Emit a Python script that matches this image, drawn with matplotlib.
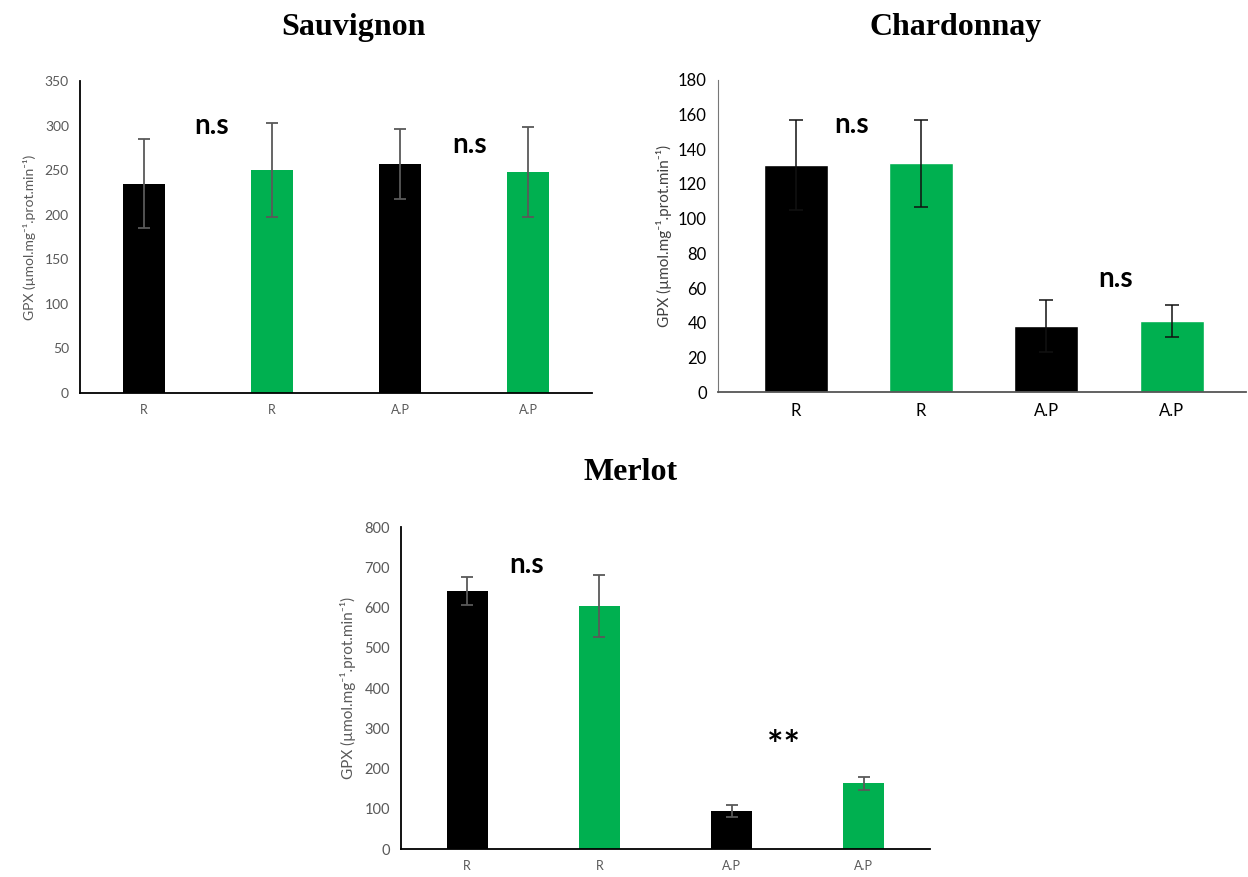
import matplotlib.pyplot as plt

plt.rcParams['font.family'] = ['Lato', 'DejaVu Sans']

categories = ['R', 'R', 'A.P', 'A.P']
colors = ['#000000', '#00B050', '#000000', '#00B050']

sauv_vals = [235, 250, 257, 248]
sauv_err = [50, 53, 39, 50]

chard_vals = [131, 132, 38, 41]
chard_err = [26, 25, 15, 9]

merlot_vals = [641, 604, 94, 163]
merlot_err = [34, 78, 15, 16]

ylabel = 'GPX (µmol.mg⁻¹.prot.min⁻¹)'
grey = '#595959'

fig = plt.figure(figsize=(12.48, 8.77), dpi=100)

# --- Sauvignon ---
ax1 = fig.add_axes([0.0641, 0.5519, 0.4103, 0.3557])
x = range(len(categories))
ax1.bar(x, sauv_vals, width=0.33, color=colors, zorder=2)
ax1.errorbar(x, sauv_vals, yerr=sauv_err, fmt='none', ecolor=grey, elinewidth=1.3, capsize=4, capthick=1.3, zorder=3)
ax1.set_xlim(-0.5, 3.5)
ax1.set_ylim(0, 350)
ax1.set_yticks(range(0, 351, 50))
ax1.set_xticks(list(x))
ax1.set_xticklabels(categories)
ax1.set_ylabel(ylabel, color=grey, fontsize=10, labelpad=6)
ax1.text(0.53, 300, 'n.s', fontsize=20, fontweight='bold', ha='center', va='center')
ax1.text(2.54, 278, 'n.s', fontsize=20, fontweight='bold', ha='center', va='center')
fig.text(0.283, 0.969, 'Sauvignon', family='Liberation Serif', fontsize=23, fontweight='bold', ha='center', va='center')

# --- Chardonnay ---
ax2 = fig.add_axes([0.5753, 0.553, 0.4227, 0.3558])
ax2.bar(x, chard_vals, width=0.51, color=colors, edgecolor='white', linewidth=1, zorder=2)
ax2.errorbar(x, chard_vals, yerr=chard_err, fmt='none', ecolor='#111111', elinewidth=1.1, capsize=5, capthick=1.1, zorder=3)
ax2.set_xlim(-0.62, 3.59)
ax2.set_ylim(0, 180)
ax2.set_yticks(range(0, 181, 20))
ax2.set_xticks(list(x))
ax2.set_xticklabels(categories)
ax2.set_ylabel(ylabel, color='#404040', fontsize=11, labelpad=4)
ax2.text(0.45, 154, 'n.s', fontsize=20, fontweight='bold', ha='center', va='center')
ax2.text(2.55, 65, 'n.s', fontsize=20, fontweight='bold', ha='center', va='center')
fig.text(0.766, 0.969, 'Chardonnay', family='Liberation Serif', fontsize=23, fontweight='bold', ha='center', va='center')

# --- Merlot ---
ax3 = fig.add_axes([0.3213, 0.0319, 0.4239, 0.3671])
ax3.bar(x, merlot_vals, width=0.31, color=colors, zorder=2)
ax3.errorbar(x, merlot_vals, yerr=merlot_err, fmt='none', ecolor=grey, elinewidth=1.3, capsize=4, capthick=1.3, zorder=3)
ax3.set_xlim(-0.5, 3.5)
ax3.set_ylim(0, 800)
ax3.set_yticks(range(0, 801, 100))
ax3.set_xticks(list(x))
ax3.set_xticklabels(categories)
ax3.set_ylabel(ylabel, color=grey, fontsize=11, labelpad=6)
ax3.text(0.45, 705, 'n.s', fontsize=20, fontweight='bold', ha='center', va='center')
ax3.text(2.39, 255, '**', fontsize=28, fontweight='bold', ha='center', va='center')
fig.text(0.505, 0.461, 'Merlot', family='Liberation Serif', fontsize=23, fontweight='bold', ha='center', va='center')

for ax, fs, tc in [(ax1, 10, grey), (ax2, 12, '#000000'), (ax3, 10.5, grey)]:
    ax.spines['top'].set_visible(False)
    ax.spines['right'].set_visible(False)
    ax.spines['left'].set_linewidth(1.3)
    ax.spines['bottom'].set_linewidth(1.3)
    ax.tick_params(axis='both', length=0, labelsize=fs, labelcolor=tc, pad=8)
    ax.set_facecolor('none')

ax1.tick_params(axis='x', labelsize=9)
ax3.tick_params(axis='x', labelsize=9)
ax2.spines['bottom'].set_color('#555555')
ax2.spines['left'].set_color('#777777')
ax2.spines['left'].set_linewidth(0.8)

fig.savefig('out.png', dpi=100)
